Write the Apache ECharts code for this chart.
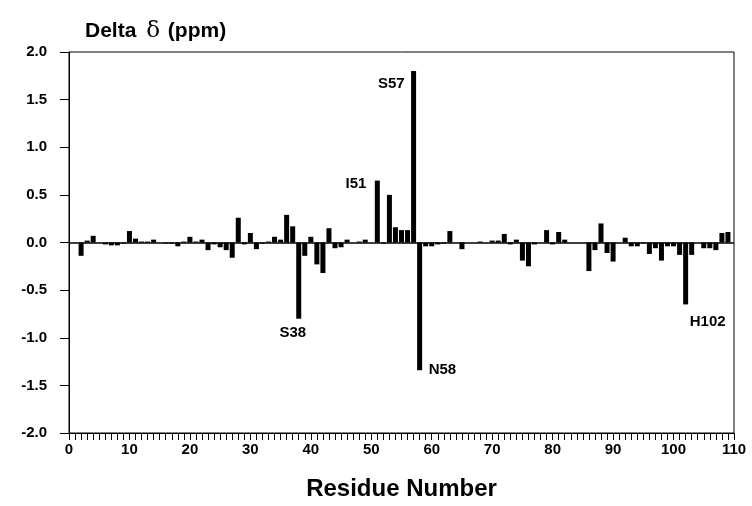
<!DOCTYPE html>
<html>
<head>
<meta charset="utf-8">
<script src="https://cdn.jsdelivr.net/npm/echarts@6/dist/echarts.min.js"></script>
<style>
  body { margin: 0; background: #fff; }
  #chart-container { width: 752px; height: 506px; }
</style>
</head>
<body>
<div id="chart-container"></div>
<script>
// residue numbers 1..109 and chemical shift differences (ppm)
const residues = [
    1, 2, 3, 4, 5, 6, 7, 8, 9, 10,
    11, 12, 13, 14, 15, 16, 17, 18, 19, 20,
    21, 22, 23, 24, 25, 26, 27, 28, 29, 30,
    31, 32, 33, 34, 35, 36, 37, 38, 39, 40,
    41, 42, 43, 44, 45, 46, 47, 48, 49, 50,
    51, 52, 53, 54, 55, 56, 57, 58, 59, 60,
    61, 62, 63, 64, 65, 66, 67, 68, 69, 70,
    71, 72, 73, 74, 75, 76, 77, 78, 79, 80,
    81, 82, 83, 84, 85, 86, 87, 88, 89, 90,
    91, 92, 93, 94, 95, 96, 97, 98, 99, 100,
    101, 102, 103, 104, 105, 106, 107, 108, 109
]
const deltas = [
    0.0, -0.14, 0.02, 0.07, 0.0, -0.02, -0.03, -0.03, -0.01, 0.12,
    0.04, 0.01, 0.01, 0.03, 0.0, -0.01, -0.01, -0.04, 0.01, 0.06,
    0.01, 0.03, -0.08, -0.02, -0.05, -0.08, -0.16, 0.26, -0.02, 0.10,
    -0.07, -0.01, 0.01, 0.06, 0.03, 0.29, 0.17, -0.80, -0.14, 0.06,
    -0.23, -0.32, 0.15, -0.06, -0.05, 0.03, 0.0, 0.01, 0.03, 0.0,
    0.65, -0.01, 0.50, 0.16, 0.13, 0.13, 1.80, -1.34, -0.04, -0.04,
    -0.02, -0.01, 0.12, 0.0, -0.07, 0.0, 0.0, 0.01, 0.0, 0.02,
    0.02, 0.09, -0.02, 0.03, -0.19, -0.25, -0.02, 0.0, 0.13, -0.02,
    0.11, 0.03, 0.0, 0.0, 0.0, -0.30, -0.08, 0.20, -0.11, -0.20,
    0.0, 0.05, -0.04, -0.04, -0.01, -0.12, -0.06, -0.19, -0.04, -0.04,
    -0.13, -0.65, -0.13, 0.0, -0.06, -0.06, -0.08, 0.10, 0.11
]
// labelled residues
const labelNames = ["S57", "I51", "S38", "N58", "H102"]
const labelResidues = [57, 51, 38, 58, 102]

const FONT = "'Liberation Sans', Arial, sans-serif"

const chartContainer = document.getElementById("chart-container")
const chart = echarts.init(chartContainer)

const barData = residues.map((r, i) => [r, deltas[i]])

// label placement per annotation
const labelStyle = {
    S57: { position: "left", distance: 9, offset: [0, 13] },
    I51: { position: "left", distance: 11, offset: [0, 3] },
    S38: { position: "bottom", distance: 7, offset: [-6, 0] },
    N58: { position: "right", distance: 9, offset: [0, 0] },
    H102: { position: "bottom", distance: 10, offset: [22, 0] }
}

const markData = labelNames.map((name, i) => {
    const r = labelResidues[i]
    const v = deltas[residues.indexOf(r)]
    return {
        name: name,
        coord: [r, v],
        label: Object.assign({
            show: true,
            formatter: name,
            color: "#000",
            fontFamily: FONT,
            fontWeight: "bold",
            fontSize: 15
        }, labelStyle[name])
    }
})

const option = {
    animation: false,
    backgroundColor: "#fff",
    title: {
        text: "Delta {d|δ} (ppm)",
        left: 80,
        top: 15,
        textStyle: {
            fontFamily: FONT,
            fontWeight: "bold",
            fontSize: 21,
            color: "#000",
            rich: {
                d: { fontFamily: "'DejaVu Serif', serif", fontWeight: "normal", fontSize: 23, color: "#000", padding: [0, 2, 0, 4] }
            }
        }
    },
    grid: {
        left: 69,
        right: 18,
        top: 52,
        bottom: 69,
        show: true,
        borderColor: "#000",
        borderWidth: 1
    },
    xAxis: {
        type: "value",
        min: 0,
        max: 110,
        interval: 10,
        name: "Residue Number",
        nameLocation: "middle",
        nameGap: 44,
        nameTextStyle: { fontFamily: FONT, fontWeight: "bold", fontSize: 24, color: "#000" },
        axisLine: { onZero: false, lineStyle: { color: "#000", width: 1 } },
        axisTick: { show: true, length: 7, lineStyle: { color: "#000" } },
        minorTick: { show: true, splitNumber: 10, length: 7, lineStyle: { color: "#000" } },
        splitLine: { show: false },
        axisLabel: { margin: 9, fontFamily: FONT, fontWeight: "bold", fontSize: 15, color: "#000" }
    },
    yAxis: {
        type: "value",
        min: -2,
        max: 2,
        interval: 0.5,
        axisLine: { show: true, onZero: false, lineStyle: { color: "#000", width: 1 } },
        axisTick: { show: true, length: 9, lineStyle: { color: "#000" } },
        splitLine: { show: false },
        axisLabel: {
            margin: 22,
            fontFamily: FONT,
            fontWeight: "bold",
            fontSize: 15,
            color: "#000",
            formatter: v => v.toFixed(1)
        }
    },
    series: [
        {
            type: "bar",
            data: barData,
            barWidth: 5,
            itemStyle: { color: "#000" },
            // zero baseline
            markLine: {
                silent: true,
                symbol: ["none", "none"],
                label: { show: false },
                lineStyle: { color: "#000", width: 1.5, type: "solid" },
                data: [{ yAxis: 0 }]
            },
            markPoint: {
                symbol: "circle",
                symbolSize: 0,
                data: markData
            }
        }
    ]
}

chart.setOption(option)
</script>
</body>
</html>
